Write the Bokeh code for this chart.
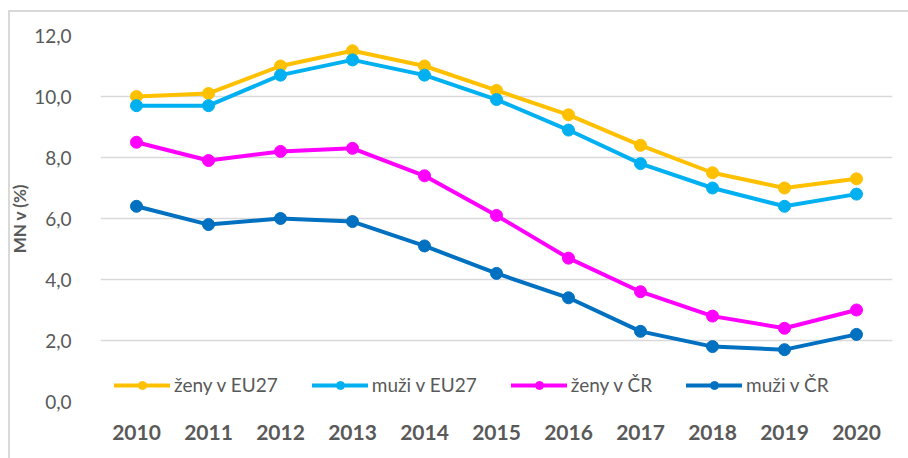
from bokeh.plotting import figure
from bokeh.models import Legend, LegendItem, CustomJSTickFormatter, FixedTicker, InlineStyleSheet
from bokeh.embed import file_html
from bokeh.resources import INLINE

years = ["2010", "2011", "2012", "2013", "2014", "2015", "2016", "2017", "2018", "2019", "2020"]
zeny_eu27 = [10.0, 10.1, 11.0, 11.5, 11.0, 10.2, 9.4, 8.4, 7.5, 7.0, 7.3]
muzi_eu27 = [9.7, 9.7, 10.7, 11.2, 10.7, 9.9, 8.9, 7.8, 7.0, 6.4, 6.8]
zeny_cr = [8.5, 7.9, 8.2, 8.3, 7.4, 6.1, 4.7, 3.6, 2.8, 2.4, 3.0]
muzi_cr = [6.4, 5.8, 6.0, 5.9, 5.1, 4.2, 3.4, 2.3, 1.8, 1.7, 2.2]
y_ticks = [0, 2, 4, 6, 8, 10, 12]

series = [
    ("ženy v EU27", zeny_eu27, "#FFC000"),
    ("muži v EU27", muzi_eu27, "#00B0F0"),
    ("ženy v ČR", zeny_cr, "#FF00FF"),
    ("muži v ČR", muzi_cr, "#0070C0"),
]

FONT = "Lato"

p = figure(width=908, height=458, x_range=years, y_range=(0, 12),
           output_backend="svg", toolbar_location=None,
           min_border_left=100, min_border_right=16, min_border_top=35, min_border_bottom=57)
p.outline_line_color = None
p.background_fill_color = "white"
p.border_fill_color = "white"

items = []
for name, vals, col in series:
    r1 = p.line(years, vals, line_color=col, line_width=4, line_join="round", line_cap="round")
    r2 = p.scatter(years, vals, size=12, fill_color=col, line_color=col)
    items.append(LegendItem(label=name, renderers=[r1, r2]))

legend = Legend(items=items, orientation="horizontal", location=(14, 5),
                glyph_width=56, glyph_height=20, label_text_font=FONT,
                label_text_font_size="19px", label_text_color="#595959",
                spacing=34, padding=4, label_standoff=4,
                background_fill_alpha=0, border_line_color=None)
p.add_layout(legend, "center")

p.xgrid.grid_line_color = None
p.ygrid.grid_line_color = "#d9d9d9"
p.ygrid.grid_line_width = 1.5
p.yaxis.ticker = FixedTicker(ticks=y_ticks)
p.yaxis.formatter = CustomJSTickFormatter(code="return tick.toFixed(1).replace('.', ',');")

for ax in (p.xaxis, p.yaxis):
    ax.axis_line_color = None
    ax.major_tick_line_color = None
    ax.minor_tick_line_color = None
    ax.major_label_text_font = FONT
    ax.major_label_text_color = "#595959"

p.yaxis.major_label_text_font_size = "19px"
p.xaxis.major_label_text_font_size = "21px"
p.xaxis.major_label_text_font_style = "bold"
p.xaxis.major_label_standoff = 17
p.yaxis.major_label_standoff = 23
p.yaxis.axis_label = "MN v (%)"
p.yaxis.axis_label_text_font = FONT
p.yaxis.axis_label_text_font_size = "17px"
p.yaxis.axis_label_text_font_style = "bold"
p.yaxis.axis_label_text_color = "#595959"
p.yaxis.axis_label_standoff = 1

p.stylesheets = [InlineStyleSheet(css=(
    ":host { position: relative; }"
    ":host::after { content: ''; position: absolute; left: 8px; top: 10px; right: 0; bottom: 0;"
    " border-top: 2px solid #d9d9d9; border-left: 2px solid #d9d9d9; pointer-events: none; }"
))]

open("out.html", "w").write(file_html(p, INLINE))
